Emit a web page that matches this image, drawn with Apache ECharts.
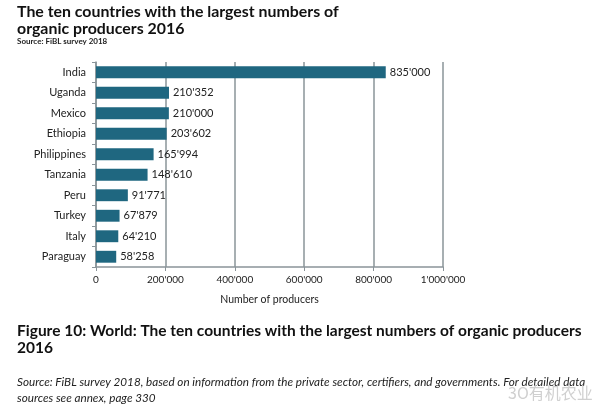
<!DOCTYPE html>
<html>
<head>
<meta charset="utf-8">
<script src="https://cdn.jsdelivr.net/npm/echarts@6/dist/echarts.min.js"></script>
<style>html,body{margin:0;padding:0;background:#fff;}#c{width:600px;height:418px;}</style>
</head>
<body>
<div id="c"></div>
<script>
var countries = ['India','Uganda','Mexico','Ethiopia','Philippines','Tanzania','Peru','Turkey','Italy','Paraguay'];
var producers = [835000,210352,210000,203602,165994,148610,91771,67879,64210,58258];
var xTicks = [0,200000,400000,600000,800000,1000000];

function fmt(v){ return String(v).replace(/\B(?=(\d{3})+(?!\d))/g, "'"); }

var chart = echarts.init(document.getElementById('c'));
var F = 'Lato, "Open Sans", sans-serif';
chart.setOption({
  backgroundColor:'#fff',
  animation:false,
  title:[
    {text:'The ten countries with the largest numbers of\norganic producers 2016', left:12, top:-2,
     textStyle:{fontFamily:F,fontSize:15.9,fontWeight:'bold',color:'#111',lineHeight:17}},
    {text:'Source: FiBL survey 2018', left:12, top:32,
     textStyle:{fontFamily:F,fontSize:8,fontWeight:'bold',color:'#222'}},
    {text:'Figure 10: World: The ten countries with the largest numbers of organic producers\n2016', left:12, top:317,
     textStyle:{fontFamily:F,fontSize:15.5,fontWeight:'bold',color:'#111',lineHeight:17}},
    {text:'Source: FiBL survey 2018, based on information from the private sector, certifiers, and governments. For detailed data\nsources see annex, page 330', left:12, top:369,
     textStyle:{fontFamily:F,fontSize:11.7,fontStyle:'italic',fontWeight:'normal',color:'#222',lineHeight:16}},
    {text:'3O有机农业', left:503, top:380,
     textStyle:{fontFamily:'"Noto Sans CJK SC", sans-serif',fontSize:16,fontWeight:'normal',color:'#d0d0d0'}}
  ],
  grid:{left:96, right:157, top:62, bottom:151, containLabel:false},
  xAxis:{
    type:'value', min:0, max:1000000, interval:200000,
    name:'Number of producers', nameLocation:'middle', nameGap:27,
    nameTextStyle:{fontFamily:F,fontSize:10.5,color:'#222'},
    axisLine:{show:true,lineStyle:{color:'#8a9499',width:1.5}},
    axisTick:{show:true,length:4,inside:false,lineStyle:{color:'#8a9499'}},
    axisLabel:{fontFamily:F,fontSize:10,color:'#222',margin:8,formatter:fmt},
    splitLine:{show:true,lineStyle:{color:'#8a9499',width:1.5}}
  },
  yAxis:{
    type:'category', data:countries, inverse:true,
    axisLine:{show:true,lineStyle:{color:'#8a9499',width:1.5}},
    axisTick:{show:true,length:4,alignWithLabel:false,lineStyle:{color:'#8a9499'}},
    axisLabel:{fontFamily:F,fontSize:11,color:'#222',margin:10}
  },
  series:[{
    type:'bar', data:producers, barCategoryGap:'42%',
    itemStyle:{color:'#1f6780'},
    label:{show:true,position:'right',distance:4,fontFamily:F,fontSize:11,color:'#222',
      formatter:function(p){return fmt(p.value);}}
  }]
});
</script>
</body>
</html>
